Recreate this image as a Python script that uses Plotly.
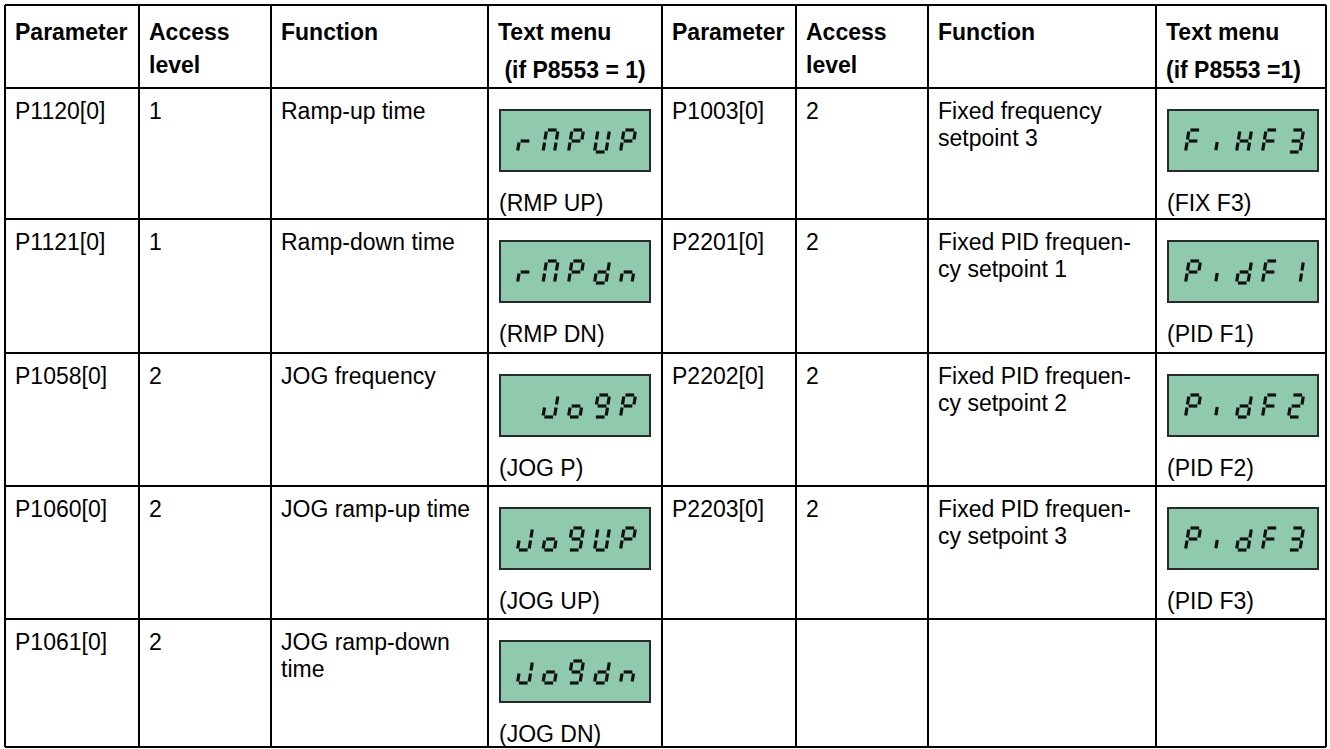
import plotly.graph_objects as go

W, H = 1330, 749

# ---------------- data ----------------
header_left = [["Parameter"], ["Access", "level"], ["Function"], ["Text menu", " (if P8553 = 1)"]]
header_right = [["Parameter"], ["Access", "level"], ["Function"], ["Text menu", "(if P8553 =1)"]]

params_left = ["P1120[0]", "P1121[0]", "P1058[0]", "P1060[0]", "P1061[0]"]
access_left = ["1", "1", "2", "2", "2"]
function_left = [["Ramp-up time"], ["Ramp-down time"], ["JOG frequency"], ["JOG ramp-up time"], ["JOG ramp-down", "time"]]
lcd_left = ["rMPUP", "rMPdn", " JoGP", "JoGUP", "JoGdn"]
menu_left = ["(RMP UP)", "(RMP DN)", "(JOG P)", "(JOG UP)", "(JOG DN)"]

params_right = ["P1003[0]", "P2201[0]", "P2202[0]", "P2203[0]"]
access_right = ["2", "2", "2", "2"]
function_right = [["Fixed frequency", "setpoint 3"], ["Fixed PID frequen-", "cy setpoint 1"],
                  ["Fixed PID frequen-", "cy setpoint 2"], ["Fixed PID frequen-", "cy setpoint 3"]]
lcd_right = ["FiHF3", "PidF1", "PidF2", "PidF3"]
menu_right = ["(FIX F3)", "(PID F1)", "(PID F2)", "(PID F3)"]

# ---------------- layout geometry ----------------
col_x = [5, 139, 271, 488, 662, 796, 928, 1156, 1326]
row_y = [5, 88, 219, 353, 486, 619, 747]

FONT = "Liberation Sans, Arial, sans-serif"
FS = 23
LCD_FILL = "#8FCAAF"

SEGS = {
    'r': "eg", 'M': "abcef", 'P': "abefg", 'U': "bcdef", 'd': "bcdeg", 'n': "ceg",
    'J': "bcde", 'o': "cdeg", 'G': "abcdfg", 'F': "aefg", 'H': "bcefg", '3': "abcdg",
    '2': "abdeg", '1': "bc", 'i': "I", ' ': "",
}

fig = go.Figure()
annotations = []
shapes = []


def add_text(x, y, text, bold=False):
    annotations.append(dict(
        x=x, y=y, xref="x", yref="y", text=("<b>%s</b>" % text) if bold else text,
        showarrow=False, xanchor="left", yanchor="middle",
        font=dict(family=FONT, size=FS, color="black")))


def lcd(x0, y0, text):
    bw, bh = 150, 61
    shapes.append(dict(type="rect", x0=x0, y0=y0, x1=x0 + bw, y1=y0 + bh,
                       xref="x", yref="y", fillcolor=LCD_FILL,
                       line=dict(color="#2a2a2a", width=2), layer="below"))
    w, h, s, gap = 11.5, 22, 0.16, 1.4
    base = y0 + 31 + h / 2
    centers = [25, 50.5, 76, 102, 128]
    xs, ys = [], []
    seg_def = {
        'a': ((0 + gap, h), (w - gap, h)),
        'b': ((w, h - gap), (w, h / 2 + gap)),
        'c': ((w, h / 2 - gap), (w, gap)),
        'd': ((gap, 0), (w - gap, 0)),
        'e': ((0, h / 2 - gap), (0, gap)),
        'f': ((0, h - gap), (0, h / 2 + gap)),
        'g': ((gap, h / 2), (w - gap, h / 2)),
        'I': ((w * 0.4, h * 0.46), (w * 0.4, h * 0.08)),
    }
    for ch, cxr in zip(text, centers):
        cx = x0 + cxr
        for seg in SEGS[ch]:
            (ax, ay), (bx, by) = seg_def[seg]
            for px, py in ((ax, ay), (bx, by)):
                xs.append(cx - w / 2 - s * h / 2 + px + s * py)
                ys.append(base - py)
            xs.append(None)
            ys.append(None)
    fig.add_trace(go.Scatter(x=xs, y=ys, mode="lines", hoverinfo="skip",
                             line=dict(color="#111111", width=3.2), showlegend=False))


# headers
for half, hdr in ((0, header_left), (4, header_right)):
    for j, lines in enumerate(hdr):
        x = col_x[half + j] + 8
        add_text(x, 32, lines[0], bold=True)
        if len(lines) > 1:
            add_text(x, 65 if j != 3 else 70, lines[1], bold=True)


def fill_half(off, params, access, funcs, lcds, menus):
    for i in range(len(params)):
        top = row_y[i + 1]
        ty = top + 23
        add_text(col_x[off] + 8, ty, params[i])
        add_text(col_x[off + 1] + 8, ty, access[i])
        for k, ln in enumerate(funcs[i]):
            add_text(col_x[off + 2] + 8, ty + k * 27, ln)
        lcd(col_x[off + 3] + 12, top + 22, lcds[i])
        add_text(col_x[off + 3] + 9, top + 115, menus[i])


fill_half(0, params_left, access_left, function_left, lcd_left, menu_left)
fill_half(4, params_right, access_right, function_right, lcd_right, menu_right)

# grid lines
for x in col_x:
    shapes.append(dict(type="line", x0=x, x1=x, y0=row_y[0], y1=row_y[-1], xref="x", yref="y",
                       line=dict(color="black", width=2)))
for y in row_y:
    shapes.append(dict(type="line", x0=col_x[0], x1=col_x[-1], y0=y, y1=y, xref="x", yref="y",
                       line=dict(color="black", width=2)))

fig.update_layout(
    width=W, height=H, margin=dict(l=0, r=0, t=0, b=0),
    paper_bgcolor="white", plot_bgcolor="white",
    xaxis=dict(range=[0, W], visible=False, fixedrange=True),
    yaxis=dict(range=[H, 0], visible=False, fixedrange=True),
    annotations=annotations, shapes=shapes, showlegend=False,
)

fig.write_html("out.html", config={"displayModeBar": False},
               post_script="document.body.style.margin='0';document.body.style.overflow='hidden';")
